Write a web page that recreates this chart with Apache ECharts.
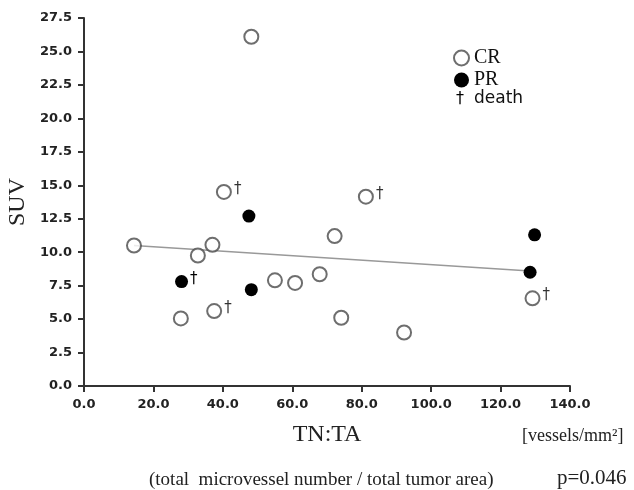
<!DOCTYPE html>
<html>
<head>
<meta charset="utf-8">
<script src="https://cdn.jsdelivr.net/npm/echarts@6/dist/echarts.min.js"></script>
<style>
  html, body { margin: 0; padding: 0; background: #fff; }
  #chart { width: 634px; height: 490px; }
</style>
</head>
<body>
<div id="chart"></div>
<script>
// CR (open circles)
const crX = [14.4, 27.9, 32.8, 37.0, 37.5, 40.3, 48.2, 55.0, 60.8, 67.9, 72.2, 74.1, 81.2, 92.2, 129.2]
const crY = [10.5, 5.05, 9.75, 10.55, 5.6, 14.5, 26.1, 7.9, 7.7, 8.35, 11.2, 5.1, 14.15, 4.0, 6.55]
const crDeath = [0, 0, 0, 0, 1, 1, 0, 0, 0, 0, 0, 0, 1, 0, 1]

// PR (filled circles)
const prX = [28.1, 47.5, 48.2, 128.5, 129.8]
const prY = [7.8, 12.7, 7.2, 8.5, 11.3]
const prDeath = [1, 0, 0, 0, 0]

// regression line end points
const trendX = [14.4, 128.5]
const trendY = [10.5, 8.6]

const serif = '"Liberation Serif", "Times New Roman", serif'
const sans = '"DejaVu Sans", sans-serif'

const toPoints = (xs, ys, deaths) => xs.map((x, i) => ({
  value: [x, ys[i]],
  label: { show: !!deaths[i] }
}))

const daggerLabel = {
  show: false,
  formatter: '†',
  position: 'right',
  distance: 2,
  offset: [0, -3],
  color: '#000',
  fontFamily: sans,
  fontSize: 15
}

const chart = echarts.init(document.getElementById('chart'))

chart.setOption({
  animation: false,
  grid: { left: 84, right: 64, top: 18, bottom: 104, outerBoundsMode: 'none' },
  legend: {
    orient: 'vertical',
    left: 448,
    top: 43,
    itemWidth: 15,
    itemHeight: 15,
    itemGap: 2,
    data: ['CR', 'PR'],
    textStyle: { fontFamily: serif, fontSize: 20, lineHeight: 19, color: '#111' }
  },
  xAxis: {
    type: 'value',
    min: 0,
    max: 140,
    interval: 20,
    name: 'TN:TA',
    nameLocation: 'middle',
    nameGap: 37,
    nameTextStyle: { fontFamily: serif, fontSize: 24, color: '#222' },
    axisLine: { lineStyle: { color: '#333', width: 2 } },
    axisTick: { show: true, length: 6, lineStyle: { color: '#333', width: 2 } },
    splitLine: { show: false },
    axisLabel: {
      margin: 12,
      formatter: v => v.toFixed(1),
      fontFamily: sans,
      fontWeight: 'bold',
      fontSize: 13,
      color: '#222'
    }
  },
  yAxis: {
    type: 'value',
    min: 0,
    max: 27.5,
    interval: 2.5,
    name: 'SUV',
    nameLocation: 'middle',
    nameGap: 54,
    nameMoveOverlap: false,
    nameTextStyle: { fontFamily: serif, fontSize: 24, color: '#222' },
    axisLine: { show: true, lineStyle: { color: '#333', width: 2 } },
    axisTick: { show: true, length: 6, lineStyle: { color: '#333', width: 2 } },
    splitLine: { show: false },
    axisLabel: {
      margin: 12,
      formatter: v => v.toFixed(1),
      fontFamily: sans,
      fontWeight: 'bold',
      fontSize: 13,
      color: '#222'
    }
  },
  graphic: [
    {
      type: 'text', left: 456, top: 91,
      style: { text: '†', fontFamily: sans, fontSize: 16, fill: '#000' }
    },
    {
      type: 'text', left: 474, top: 90,
      style: { text: 'death', fontFamily: sans, fontSize: 17, fill: '#111' }
    },
    {
      type: 'text', left: 522, top: 427,
      style: { text: '[vessels/mm²]', fontFamily: serif, fontSize: 18, fill: '#222' }
    },
    {
      type: 'text', left: 149, top: 471,
      style: { text: '(total  microvessel number / total tumor area)', fontFamily: serif, fontSize: 19, fill: '#222' }
    },
    {
      type: 'text', left: 557, top: 468,
      style: { text: 'p=0.046', fontFamily: serif, fontSize: 21, fill: '#222' }
    }
  ],
  series: [
    {
      name: 'trend',
      type: 'line',
      data: trendX.map((x, i) => [x, trendY[i]]),
      symbol: 'none',
      lineStyle: { color: '#999', width: 1.5 },
      z: 1
    },
    {
      name: 'CR',
      type: 'scatter',
      symbol: 'circle',
      symbolSize: 14,
      data: toPoints(crX, crY, crDeath),
      itemStyle: { color: '#fff', borderColor: '#4a4a4a', borderWidth: 2 },
      label: daggerLabel,
      z: 3
    },
    {
      name: 'PR',
      type: 'scatter',
      symbol: 'circle',
      symbolSize: 13,
      data: toPoints(prX, prY, prDeath),
      itemStyle: { color: '#000', opacity: 1 },
      label: daggerLabel,
      z: 3
    }
  ]
})
</script>
</body>
</html>
